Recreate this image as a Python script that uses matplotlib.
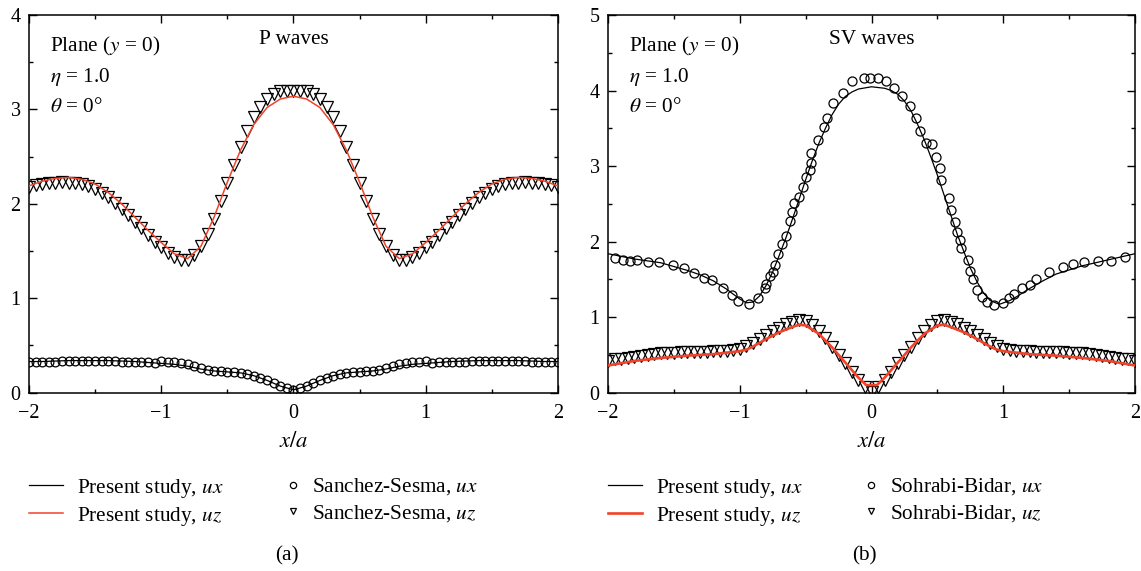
import numpy as np
import matplotlib
matplotlib.use("Agg")
import matplotlib.pyplot as plt
from matplotlib.lines import Line2D
from matplotlib.ticker import MultipleLocator

plt.rcParams['font.family'] = ['Liberation Serif', 'DejaVu Serif']
plt.rcParams['mathtext.fontset'] = 'stix'

RED = '#f0432a'

# ---------------- data: (a) P waves ----------------
x_p_mark = np.linspace(-2, 2, 81)   # sample positions, step 0.05
x_p_line = np.linspace(-2, 2, 41)   # step 0.1

p_uz_mark = [2.18, 2.20, 2.21, 2.22, 2.22, 2.23, 2.22, 2.22, 2.21, 2.19,
             2.16, 2.12, 2.07, 2.01, 1.95, 1.88, 1.81, 1.74, 1.67, 1.60,
             1.54, 1.48, 1.44, 1.40, 1.41, 1.46, 1.55, 1.68, 1.84, 2.03,
             2.22, 2.41, 2.60, 2.77, 2.92, 3.03, 3.11, 3.16, 3.19, 3.20,
             3.20,
             3.20, 3.19, 3.16, 3.11, 3.03, 2.92, 2.77, 2.60, 2.41, 2.22,
             2.03, 1.84, 1.68, 1.55, 1.46, 1.41, 1.40, 1.44, 1.48, 1.54,
             1.60, 1.67, 1.74, 1.81, 1.88, 1.95, 2.01, 2.07, 2.12, 2.16,
             2.19, 2.21, 2.22, 2.22, 2.23, 2.22, 2.22, 2.21, 2.20, 2.18]

p_ux_mark = [0.33, 0.33, 0.33, 0.33, 0.33, 0.34, 0.34, 0.34, 0.34, 0.34,
             0.34, 0.34, 0.34, 0.34, 0.33, 0.33, 0.33, 0.32, 0.32, 0.31,
             0.34, 0.33, 0.32, 0.31, 0.30, 0.28, 0.26, 0.24, 0.23, 0.23,
             0.22, 0.22, 0.21, 0.20, 0.18, 0.16, 0.13, 0.10, 0.07, 0.05,
             0.03,
             0.05, 0.07, 0.10, 0.13, 0.16, 0.18, 0.20, 0.21, 0.22, 0.22,
             0.23, 0.23, 0.24, 0.26, 0.28, 0.30, 0.31, 0.32, 0.33, 0.34,
             0.31, 0.32, 0.32, 0.33, 0.33, 0.33, 0.34, 0.34, 0.34, 0.34,
             0.34, 0.34, 0.34, 0.34, 0.34, 0.33, 0.33, 0.33, 0.33, 0.33]

p_uz_line = [2.19, 2.24, 2.27, 2.28, 2.26, 2.21, 2.12, 2.00, 1.86, 1.72,
             1.59, 1.47, 1.42, 1.55, 1.86, 2.23, 2.57, 2.84, 3.02, 3.11,
             3.14,
             3.11, 3.02, 2.84, 2.57, 2.23, 1.86, 1.55, 1.42, 1.47, 1.59,
             1.72, 1.86, 2.00, 2.12, 2.21, 2.26, 2.28, 2.27, 2.24, 2.19]

p_ux_line = [0.33, 0.33, 0.335, 0.34, 0.34, 0.34, 0.34, 0.335, 0.33, 0.32,
             0.31, 0.30, 0.28, 0.25, 0.23, 0.22, 0.21, 0.18, 0.13, 0.07,
             0.03,
             0.07, 0.13, 0.18, 0.21, 0.22, 0.23, 0.25, 0.28, 0.30, 0.31,
             0.32, 0.33, 0.335, 0.34, 0.34, 0.34, 0.34, 0.335, 0.33, 0.33]

# ---------------- data: (b) SV waves ----------------
x_sv_mark = np.linspace(-2, 2, 81)
sv_uz_mark = [0.42, 0.44, 0.45, 0.46, 0.47, 0.48, 0.50, 0.51, 0.52, 0.53,
              0.53, 0.54, 0.54, 0.54, 0.54, 0.54, 0.55, 0.55, 0.55, 0.56,
              0.58, 0.62, 0.66, 0.71, 0.76, 0.81, 0.86, 0.91, 0.94, 0.96,
              0.95, 0.90, 0.82, 0.72, 0.61, 0.50, 0.39, 0.28, 0.17, 0.07,
              0.01,
              0.07, 0.17, 0.28, 0.39, 0.50, 0.61, 0.72, 0.82, 0.90, 0.95,
              0.96, 0.94, 0.91, 0.86, 0.81, 0.76, 0.71, 0.66, 0.62, 0.58,
              0.56, 0.55, 0.55, 0.55, 0.54, 0.54, 0.54, 0.54, 0.54, 0.53,
              0.53, 0.52, 0.51, 0.50, 0.48, 0.47, 0.46, 0.45, 0.44, 0.42]

sv_ux_mark_x = [-1.945, -1.89, -1.83, -1.78, -1.70, -1.61, -1.51, -1.42, -1.35, -1.27,
                -1.21, -1.13, -1.06, -1.01, -0.93, -0.86, -0.81, -0.80, -0.77, -0.75,
                -0.73, -0.71, -0.68, -0.65, -0.62, -0.60, -0.59, -0.55, -0.52, -0.50,
                -0.47, -0.46, -0.46, -0.41, -0.36, -0.34, -0.29, -0.22, -0.15, -0.06,
                -0.01, 0.05, 0.11, 0.17, 0.23, 0.29, 0.34, 0.37, 0.41, 0.46,
                0.49, 0.52, 0.53, 0.59, 0.60, 0.63, 0.65, 0.67, 0.68, 0.73,
                0.75, 0.77, 0.80, 0.84, 0.88, 0.93, 0.995, 1.045, 1.08, 1.14,
                1.20, 1.25, 1.35, 1.45, 1.53, 1.61, 1.72, 1.82, 1.92]
sv_ux_mark = [1.78, 1.76, 1.74, 1.75, 1.73, 1.73, 1.69, 1.65, 1.59, 1.52,
              1.49, 1.38, 1.29, 1.21, 1.17, 1.26, 1.38, 1.44, 1.54, 1.60,
              1.69, 1.83, 1.97, 2.08, 2.27, 2.39, 2.51, 2.59, 2.72, 2.86,
              2.95, 3.04, 3.17, 3.35, 3.52, 3.64, 3.83, 3.97, 4.12, 4.17,
              4.17, 4.17, 4.13, 4.04, 3.93, 3.79, 3.63, 3.46, 3.31, 3.29,
              3.12, 2.97, 2.81, 2.58, 2.42, 2.26, 2.13, 2.02, 1.91, 1.76,
              1.61, 1.50, 1.36, 1.27, 1.20, 1.16, 1.19, 1.25, 1.31, 1.38,
              1.42, 1.51, 1.60, 1.67, 1.71, 1.73, 1.74, 1.74, 1.80]

sv_ux_line_x = [-2.0, -1.8, -1.6, -1.4, -1.3, -1.2, -1.1, -1.0, -0.95, -0.9,
                -0.85, -0.8, -0.75, -0.7, -0.65, -0.6, -0.55, -0.5, -0.45, -0.4,
                -0.35, -0.3, -0.25, -0.2, -0.15, -0.1, 0.0, 0.1, 0.15, 0.2,
                0.25, 0.3, 0.35, 0.4, 0.45, 0.5, 0.55, 0.6, 0.65, 0.7,
                0.75, 0.8, 0.85, 0.9, 0.97, 1.05, 1.1, 1.2, 1.3, 1.4,
                1.6, 1.8, 2.0]
sv_ux_line = [1.84, 1.77, 1.72, 1.62, 1.56, 1.48, 1.37, 1.24, 1.19, 1.20,
              1.28, 1.42, 1.60, 1.82, 2.05, 2.30, 2.56, 2.82, 3.07, 3.30,
              3.50, 3.68, 3.82, 3.92, 3.98, 4.02, 4.05, 4.03, 4.00, 3.95,
              3.86, 3.73, 3.55, 3.35, 3.12, 2.88, 2.62, 2.36, 2.10, 1.87,
              1.65, 1.47, 1.32, 1.22, 1.17, 1.22, 1.27, 1.38, 1.48, 1.57,
              1.68, 1.76, 1.84]

sv_uz_line_x = [-2.0, -1.8, -1.6, -1.4, -1.2, -1.0, -0.95, -0.9, -0.8, -0.7,
                -0.6, -0.55, -0.5, -0.4, -0.3, -0.2, -0.1, -0.04, 0.04, 0.1,
                0.2, 0.3, 0.4, 0.5, 0.55, 0.6, 0.7, 0.8, 0.9, 0.95,
                1.0, 1.2, 1.4, 1.6, 1.8, 2.0]
sv_uz_line = [0.36, 0.42, 0.46, 0.49, 0.51, 0.55, 0.57, 0.61, 0.71, 0.80,
              0.87, 0.90, 0.89, 0.78, 0.60, 0.40, 0.20, 0.10, 0.10, 0.20,
              0.40, 0.60, 0.78, 0.89, 0.90, 0.87, 0.80, 0.71, 0.61, 0.57,
              0.55, 0.51, 0.49, 0.46, 0.42, 0.36]

FS = 15.3
TICK_FS = 14.5

fig = plt.figure(figsize=(11.41, 5.71), dpi=100)
ax1 = fig.add_axes([0.0254, 0.3123, 0.4636, 0.6614])
ax2 = fig.add_axes([0.5329, 0.3123, 0.4619, 0.6614])

mk = dict(linestyle='none', markerfacecolor='none', markeredgecolor='black', markeredgewidth=0.9)

# (a)
ax1.plot(x_p_line, p_ux_line, color='black', lw=0.9, zorder=2)
ax1.plot(x_p_mark, p_ux_mark, marker='o', markersize=6.3, **mk, zorder=3)
ax1.plot(x_p_mark, p_uz_mark, marker='v', markersize=8, **mk, zorder=3)
ax1.plot(x_p_line, p_uz_line, color=RED, lw=1.1, zorder=4)

# (b)
ax2.plot(sv_ux_line_x, sv_ux_line, color='black', lw=0.9, zorder=2)
ax2.plot(sv_ux_mark_x, sv_ux_mark, marker='o', markersize=6.5, **mk, zorder=3)
ax2.plot(x_sv_mark, sv_uz_mark, marker='v', markersize=8, **mk, zorder=3)
ax2.plot(sv_uz_line_x, sv_uz_line, color=RED, lw=1.9, zorder=4)

for ax, ymax, title, ref, panel, red_lw in [(ax1, 4, 'P waves', 'Sanchez-Sesma', '(a)', 1.1),
                                             (ax2, 5, 'SV waves', 'Sohrabi-Bidar', '(b)', 1.9)]:
    ax.set_xlim(-2, 2)
    ax.set_ylim(0, ymax)
    ax.xaxis.set_major_locator(MultipleLocator(1))
    ax.xaxis.set_minor_locator(MultipleLocator(0.5))
    ax.yaxis.set_major_locator(MultipleLocator(1))
    ax.yaxis.set_minor_locator(MultipleLocator(0.5))
    ax.tick_params(which='both', direction='in', top=True, right=True, labelsize=TICK_FS, width=1.0)
    ax.tick_params(which='major', length=5.5)
    ax.tick_params(which='minor', length=3)
    ax.tick_params(axis='x', which='major', pad=8)
    ax.tick_params(axis='y', which='major', pad=6)
    for s in ax.spines.values():
        s.set_linewidth(1.1)

    ax.text(0.039, 0.918, 'Plane ($y$ = 0)', transform=ax.transAxes, fontsize=FS, va='center', ha='left')
    ax.text(0.039, 0.836, r'$\eta$ = 1.0', transform=ax.transAxes, fontsize=FS, va='center', ha='left')
    ax.text(0.039, 0.754, r'$\theta$ = 0°', transform=ax.transAxes, fontsize=FS, va='center', ha='left')
    ax.text(0.5, 0.934, title, transform=ax.transAxes, fontsize=FS, va='center', ha='center')
    ax.text(0.5, -0.13, '$x/a$', transform=ax.transAxes, fontsize=FS + 1, va='center', ha='center')
    ax.text(0.487, -0.432, panel, transform=ax.transAxes, fontsize=FS, va='center', ha='center')

    h_lines = [Line2D([], [], color='black', lw=0.9),
               Line2D([], [], color=RED, lw=red_lw)]
    leg1 = ax.legend(h_lines, ['Present study, $ux$', 'Present study, $uz$'],
                     loc='upper left', bbox_to_anchor=(0.0, -0.222), frameon=False,
                     fontsize=FS, handlelength=1.6, handletextpad=0.65,
                     borderpad=0, borderaxespad=0, labelspacing=0.25)
    ax.add_artist(leg1)
    h_marks = [Line2D([], [], marker='o', markersize=4.5, **mk),
               Line2D([], [], marker='v', markersize=5, **mk)]
    ax.legend(h_marks, [ref + ', $ux$', ref + ', $uz$'],
              loc='upper left', bbox_to_anchor=(0.483, -0.222), frameon=False,
              fontsize=FS, handlelength=0.8, handletextpad=0.5,
              borderpad=0, borderaxespad=0, labelspacing=0.25)

fig.savefig('out.png', dpi=100)
